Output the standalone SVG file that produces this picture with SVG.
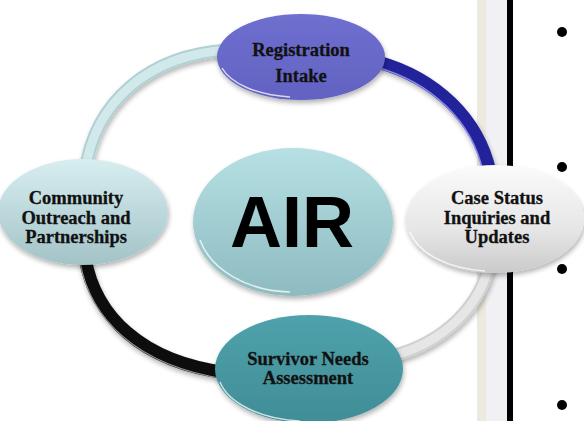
<svg xmlns="http://www.w3.org/2000/svg" width="584" height="421" viewBox="0 0 584 421">
<defs>
<linearGradient id="gReg" x1="0" y1="0" x2="0" y2="1"><stop offset="0" stop-color="#6F6FD0"/><stop offset="1" stop-color="#6262C2"/></linearGradient>
<linearGradient id="gCase" x1="0" y1="0" x2="0" y2="1"><stop offset="0" stop-color="#FBFBFB"/><stop offset="0.6" stop-color="#E6E6E6"/><stop offset="1" stop-color="#CACACA"/></linearGradient>
<linearGradient id="gComm" x1="0" y1="0" x2="0" y2="1"><stop offset="0" stop-color="#D8EEF1"/><stop offset="1" stop-color="#A3C3C7"/></linearGradient>
<linearGradient id="gSurv" x1="0" y1="0" x2="0" y2="1"><stop offset="0" stop-color="#4FA2AB"/><stop offset="1" stop-color="#408D96"/></linearGradient>
<linearGradient id="gAir" x1="0" y1="0" x2="0" y2="1"><stop offset="0" stop-color="#B6E0E4"/><stop offset="1" stop-color="#8DBBC0"/></linearGradient>
<filter id="sh" x="-20%" y="-20%" width="140%" height="150%">
<feGaussianBlur in="SourceAlpha" stdDeviation="2.5"/>
<feOffset dx="1" dy="3" result="b"/>
<feComponentTransfer><feFuncA type="linear" slope="0.3"/></feComponentTransfer>
<feMerge><feMergeNode/><feMergeNode in="SourceGraphic"/></feMerge>
</filter>
</defs>
<style>
.lbl{font-family:"Liberation Serif","Times New Roman",serif;font-weight:bold;font-size:18.5px;fill:#111;stroke:#111;stroke-width:0.3;text-anchor:middle}
.air{font-family:"Liberation Sans",Arial,sans-serif;font-weight:bold;font-size:72px;fill:#000;text-anchor:middle}
.arc{fill:none;stroke-linecap:butt}
.rim{fill:none;stroke:#FFFFFF;stroke-opacity:0.75;stroke-width:1.5}
.node{filter:url(#sh)}
</style>

<g id="side-panel">
<rect x="477" y="0" width="9" height="421" fill="#ECEADF"/>
<rect x="486" y="0" width="21" height="421" fill="#F1F1F3"/>
<rect x="507" y="0" width="6" height="421" fill="#000"/>
<circle cx="562" cy="32" r="5" fill="#000"/>
<circle cx="562" cy="167" r="5" fill="#000"/>
<circle cx="562" cy="269" r="5" fill="#000"/>
<circle cx="562" cy="405" r="5" fill="#000"/>
</g>

<g id="connectors" filter="url(#sh)">
<path class="arc" d="M 85 172 C 95 100, 150 55, 228 50" stroke="#AFD0D4" stroke-width="13"/>
<path class="arc" d="M 85 172 C 95 100, 150 55, 228 50" stroke="#D2E9EC" stroke-width="9"/>
<path class="arc" d="M 378 62 C 435 78, 478 118, 490 172" stroke="#23239B" stroke-width="13"/>
<path class="arc" d="M 376 67 C 430 82, 472 120, 483 172" stroke="#8A8AE6" stroke-width="1.5"/>
<path class="arc" d="M 490 260 C 482 305, 445 342, 392 356" stroke="#D0D0D0" stroke-width="13"/>
<path class="arc" d="M 490 260 C 482 305, 445 342, 392 356" stroke="#E6E6E6" stroke-width="9"/>
<path class="arc" d="M 85 258 C 95 315, 140 362, 228 373" stroke="#0E0E0E" stroke-width="13"/>
<path class="arc" d="M 80 262 C 90 318, 136 366, 226 379" stroke="#9A9A9A" stroke-width="1.2"/>
</g>

<g id="node-air">
<ellipse class="node" cx="293" cy="222" rx="100" ry="74" fill="url(#gAir)"/>
<path class="rim" d="M 200 240 A 96 70 0 0 0 290 292"/>
<text class="air" x="292" y="247">AIR</text>
</g>

<g id="node-registration">
<ellipse class="node" cx="301" cy="57" rx="84" ry="43" fill="url(#gReg)"/>
<path class="rim" d="M 222 68 A 80 40 0 0 0 290 97"/>
<text class="lbl" x="301" y="56">Registration</text>
<text class="lbl" x="301" y="82">Intake</text>
</g>

<g id="node-case-status">
<ellipse class="node" cx="495" cy="219" rx="89" ry="54" fill="url(#gCase)"/>
<path class="rim" d="M 410 232 A 85 50 0 0 0 485 271"/>
<text class="lbl" x="497" y="204">Case Status</text>
<text class="lbl" x="497" y="224">Inquiries and</text>
<text class="lbl" x="497" y="243">Updates</text>
</g>

<g id="node-community">
<ellipse class="node" cx="83" cy="212" rx="85" ry="53" fill="url(#gComm)"/>
<text class="lbl" x="76" y="204">Community</text>
<text class="lbl" x="76" y="224">Outreach and</text>
<text class="lbl" x="76" y="243">Partnerships</text>
</g>

<g id="node-survivor">
<ellipse class="node" cx="309" cy="369" rx="94" ry="54" fill="url(#gSurv)"/>
<path class="rim" d="M 220 382 A 90 50 0 0 0 300 421"/>
<text class="lbl" x="308" y="365">Survivor Needs</text>
<text class="lbl" x="308" y="384">Assessment</text>
</g>
</svg>
